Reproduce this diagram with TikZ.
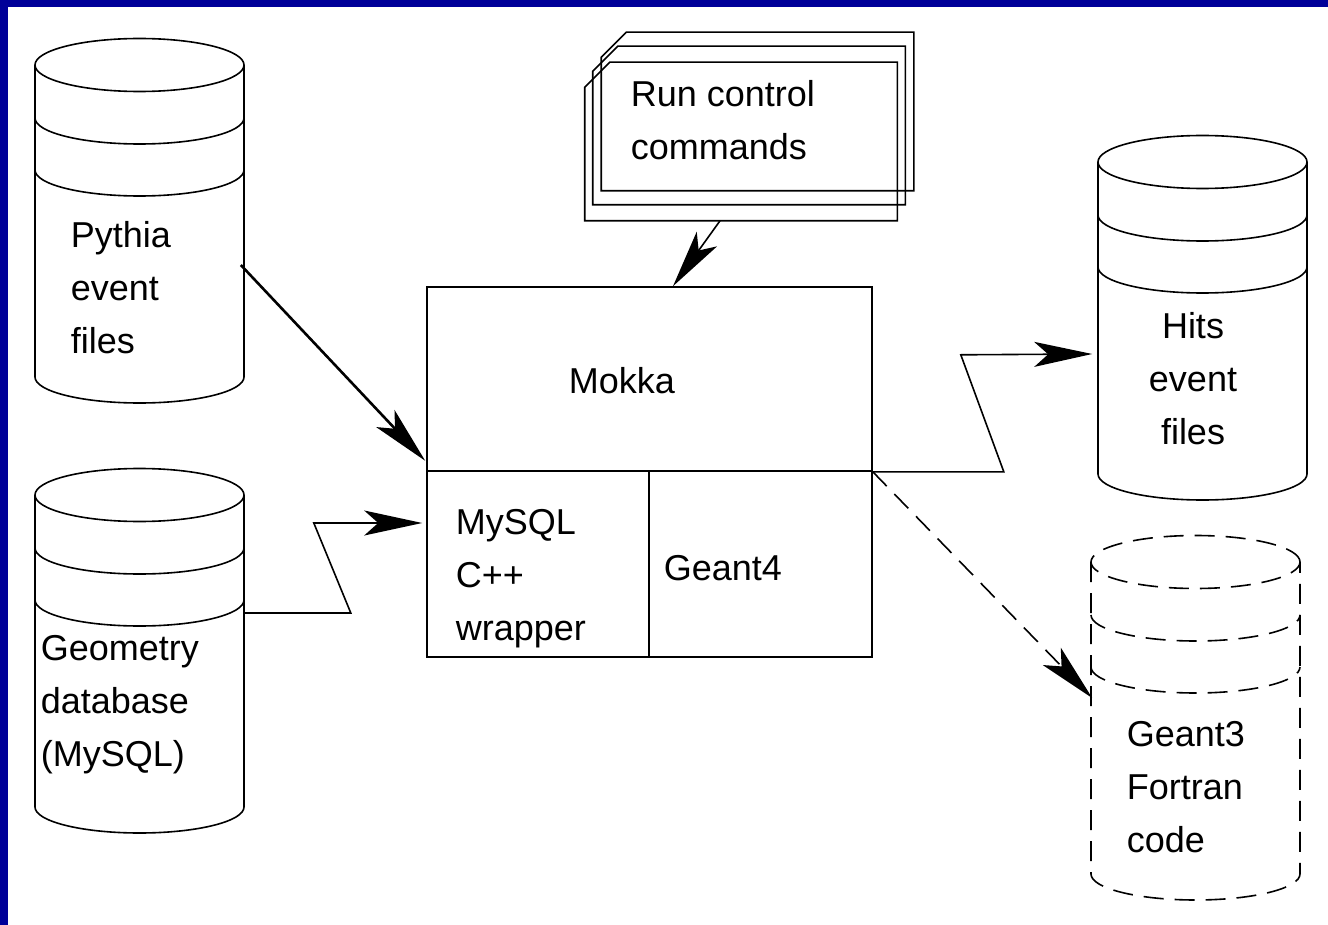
\documentclass[tikz,border=0pt]{standalone}
\usepackage{fontspec}
\setmainfont{Liberation Sans}
\usetikzlibrary{arrows.meta,calc}

\definecolor{slideblue}{RGB}{0,0,153}

% database cylinder: name, left x, rim y
\newcommand{\dbstore}[4][]{%
  \node[dbbody] (#2) at (#3+104.5,#4+156) {};
  \draw[#1] (#3+104.5,#4) ellipse [x radius=104.5pt,y radius=26.5pt];
  \draw[#1] (#3,#4) -- (#3,#4+312) arc[start angle=180,end angle=360,x radius=104.5pt,y radius=26pt] -- (#3+209,#4);
  \draw[#1] (#3,#4+53) arc[start angle=180,end angle=360,x radius=104.5pt,y radius=26pt];
  \draw[#1] (#3,#4+105) arc[start angle=180,end angle=360,x radius=104.5pt,y radius=26pt];
}

\begin{document}
\begin{tikzpicture}[x=1pt,y=-1pt,line width=1.6pt,
    >={Stealth[length=58pt,width=25pt,inset=14pt]},
    dbbody/.style={rectangle,minimum width=209pt,minimum height=312pt,inner sep=0pt},
    box/.style={rectangle,draw,inner sep=0pt},
    card/.style={rectangle,minimum width=311pt,minimum height=157pt,inner sep=0pt},
    lbl/.style={inner sep=0pt,align=left,font=\fontsize{36}{53}\selectfont},
    dashline/.style={dash pattern=on 20pt off 11pt}]
    % slide frame
    \fill[slideblue] (0,0) rectangle (1328,925);
    \fill[white] (8,7) rectangle (1328,925);
    \useasboundingbox (0,0) rectangle (1328,925);

    % data stores
    \dbstore{pythia}{35}{65}
    \dbstore{geometry}{35}{495}
    \dbstore{hits}{1098}{162}
    \dbstore[dashline]{geantthree}{1091}{562}

    % run control stack
    \foreach \i/\cx/\cy in {0/757.5/111.5,1/749/125.5,2/741/141.5} {
        \node[card] (card\i) at (\cx,\cy) {};
        \draw ([xshift=25pt]card\i.north west) -- (card\i.north east) -- (card\i.south east)
            -- (card\i.south west) -- ([yshift=-25pt]card\i.north west) -- cycle;
    }

    % Mokka
    \node[box,minimum width=445pt,minimum height=184pt] (mokka) at (649.5,379) {};
    \node[box,minimum width=222pt,minimum height=186pt] (mysql) at (538,564) {};
    \node[box,minimum width=223pt,minimum height=186pt] (geantfour) at (760.5,564) {};

    \node[lbl,anchor=west] (mokkatxt) at (568,381) {Mokka};
    \node[lbl,anchor=west] (mysqltxt) at (455,579) {MySQL\\C++\\wrapper};
    \node[lbl,anchor=west] (geantfourtxt) at (663,568) {Geant4};
    \node[lbl,anchor=west] (runtxt) at (630,120) {Run control\\commands};
    \node[lbl,anchor=west] (pythiatxt) at (70,288) {Pythia\\event\\files};
    \node[lbl,anchor=west] (geometrytxt) at (40,705) {Geometry\\database\\(MySQL)};
    \node[lbl,align=center] (hitstxt) at (1193,379) {Hits\\event\\files};
    \node[lbl,anchor=west] (geantthreetxt) at (1126,787) {Geant3\\Fortran\\code};

    \draw[->,line width=2.6pt] ($(pythia.east)+(-4,44)$) -- ($(mokka.south west)+(-1,-11)$);
    \draw[->] ($(geometry.east)+(0,-38)$) -- ++(106,0) -- ++(-37,-90) -- ($(mysql.west)+(-4,-41)$);
    \draw[->] (mokka.south east) -- ++(131,0) -- ++(-43,-117) -- ($(hits.west)+(-5,36)$);
    \draw[->,dashline] (mokka.south east) -- ($(geantthree.west)+(2,-20)$);
    \draw[->] ($(card2.south)+(-21,0)$) -- ($(mokka.north)+(23.5,0)$);
\end{tikzpicture}
\end{document}
